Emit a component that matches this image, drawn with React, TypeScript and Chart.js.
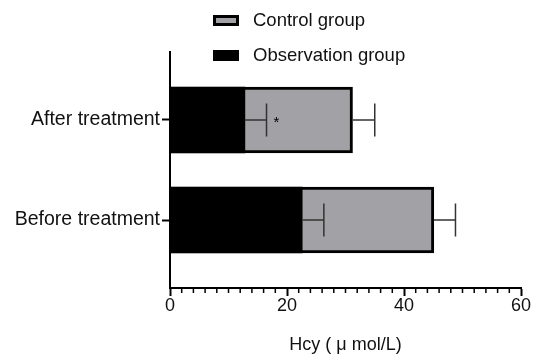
import React, { useEffect, useRef } from 'react';
import { Chart, registerables } from 'chart.js';

Chart.register(...registerables);

// ---- data ----
const categories = ['Before treatment', 'After treatment'];
const seriesNames = ['Control group', 'Observation group'];
const controlMeans = [45.1, 31.2];
const controlSD = [3.7, 3.8];
const observationMeans = [22.6, 12.8];
const observationSD = [3.7, 3.7];
const significance = ['', '*'];
const xTickValues = [0, 20, 40, 60];
const axisTitle = 'Hcy ( \u03BC mol/L)';

const FONT = "'Liberation Sans', Arial, sans-serif";
const CONTROL_FILL = '#a2a2a6';

export default function App() {
  const ref = useRef<HTMLCanvasElement | null>(null);

  useEffect(() => {
    if (!ref.current) return;
    const sdByDataset = [controlSD, observationSD];

    const errorBars = {
      id: 'errorBars',
      afterDatasetsDraw(chart: any) {
        const ctx = chart.ctx;
        const xs = chart.scales.x;
        ctx.save();
        ctx.strokeStyle = '#333';
        ctx.lineWidth = 1.5;
        chart.data.datasets.forEach((ds: any, di: number) => {
          const meta = chart.getDatasetMeta(di);
          meta.data.forEach((el: any, j: number) => {
            const v = ds.data[j].x;
            const sd = sdByDataset[di][j];
            const x0 = xs.getPixelForValue(v);
            const x1 = xs.getPixelForValue(v + sd);
            const y = el.y;
            ctx.beginPath();
            ctx.moveTo(x0, y);
            ctx.lineTo(x1, y);
            ctx.moveTo(x1, y - 16.5);
            ctx.lineTo(x1, y + 16.5);
            ctx.stroke();
            if (di === 1 && significance[j]) {
              ctx.fillStyle = '#000';
              ctx.font = `15px ${FONT}`;
              ctx.textAlign = 'left';
              ctx.textBaseline = 'middle';
              ctx.fillText(significance[j], x1 + 7, y + 3);
            }
          });
        });
        ctx.restore();
      },
    };

    const minorTicks = {
      id: 'minorTicks',
      afterDraw(chart: any) {
        const ctx = chart.ctx;
        const xs = chart.scales.x;
        const y0 = xs.top;
        ctx.save();
        ctx.strokeStyle = '#000';
        ctx.lineWidth = 1.5;
        for (let v = xs.min; v <= xs.max; v += 2) {
          if (v % 20 === 0) continue;
          const x = xs.getPixelForValue(v);
          ctx.beginPath();
          ctx.moveTo(x, y0);
          ctx.lineTo(x, y0 + 5);
          ctx.stroke();
        }
        ctx.restore();
      },
    };

    const customLegend = {
      id: 'customLegend',
      afterDraw(chart: any) {
        const ctx = chart.ctx;
        ctx.save();
        const items = [
          { label: seriesNames[0], fill: CONTROL_FILL, y: 15 },
          { label: seriesNames[1], fill: '#000', y: 50 },
        ];
        items.forEach((it) => {
          ctx.fillStyle = '#000';
          ctx.fillRect(213, it.y, 26, 11);
          ctx.fillStyle = it.fill;
          ctx.fillRect(216, it.y + 3, 20, 5);
          ctx.fillStyle = '#111';
          ctx.font = `18.5px ${FONT}`;
          ctx.textAlign = 'left';
          ctx.textBaseline = 'middle';
          ctx.fillText(it.label, 253, it.y + 6);
        });
        ctx.restore();
      },
    };

    const chart = new Chart(ref.current, {
      type: 'bar',
      data: {
        datasets: [
          {
            label: seriesNames[0],
            data: controlMeans.map((v, i) => ({ x: v, y: i })),
            backgroundColor: CONTROL_FILL,
            borderColor: '#000',
            borderWidth: 3,
            borderSkipped: false,
            barThickness: 66,
            grouped: false,
            order: 2,
          },
          {
            label: seriesNames[1],
            data: observationMeans.map((v, i) => ({ x: v, y: i })),
            backgroundColor: '#000',
            borderColor: '#000',
            borderWidth: 0,
            barThickness: 66,
            grouped: false,
            order: 1,
          },
        ] as any,
      },
      options: {
        indexAxis: 'y',
        responsive: false,
        animation: false,
        devicePixelRatio: 1,
        layout: { padding: { top: 52, right: 12, left: 0, bottom: 0 } },
        plugins: {
          legend: { display: false },
          tooltip: { enabled: false },
        },
        scales: {
          x: {
            type: 'linear',
            min: 0,
            max: 60,
            afterBuildTicks: (scale: any) => {
              scale.ticks = xTickValues.map((v) => ({ value: v }));
            },
            ticks: {
              font: { family: FONT, size: 18 },
              color: '#111',
              padding: -1,
            },
            grid: {
              drawOnChartArea: false,
              drawTicks: true,
              tickLength: 8,
              tickWidth: 2,
              tickColor: '#000',
            },
            border: { display: true, color: '#000', width: 2 },
            title: {
              display: true,
              text: axisTitle,
              font: { family: FONT, size: 18 },
              color: '#111',
              padding: { top: 0, bottom: 0 },
            },
            afterFit: (scale: any) => {
              scale.height = 68;
            },
          },
          y: {
            type: 'linear',
            min: -0.68,
            max: 1.68,
            offset: false,
            afterBuildTicks: (scale: any) => {
              scale.ticks = categories.map((_, i) => ({ value: i }));
            },
            ticks: {
              font: { family: FONT, size: 19.5 },
              color: '#111',
              padding: 2,
              callback: (v: any) => categories[v as number] ?? '',
            },
            grid: {
              offset: false,
              drawOnChartArea: false,
              drawTicks: true,
              tickLength: 8,
              tickWidth: 2,
              tickColor: '#000',
            },
            border: { display: true, color: '#000', width: 2 },
            afterFit: (scale: any) => {
              scale.width = 170;
            },
          },
        },
      } as any,
      plugins: [errorBars, minorTicks, customLegend],
    });

    return () => chart.destroy();
  }, []);

  return (
    <div style={{ position: 'absolute', left: 0, top: 0, width: 533, height: 356, background: '#fff' }}>
      <canvas ref={ref} width={533} height={356} style={{ display: 'block' }} />
    </div>
  );
}
